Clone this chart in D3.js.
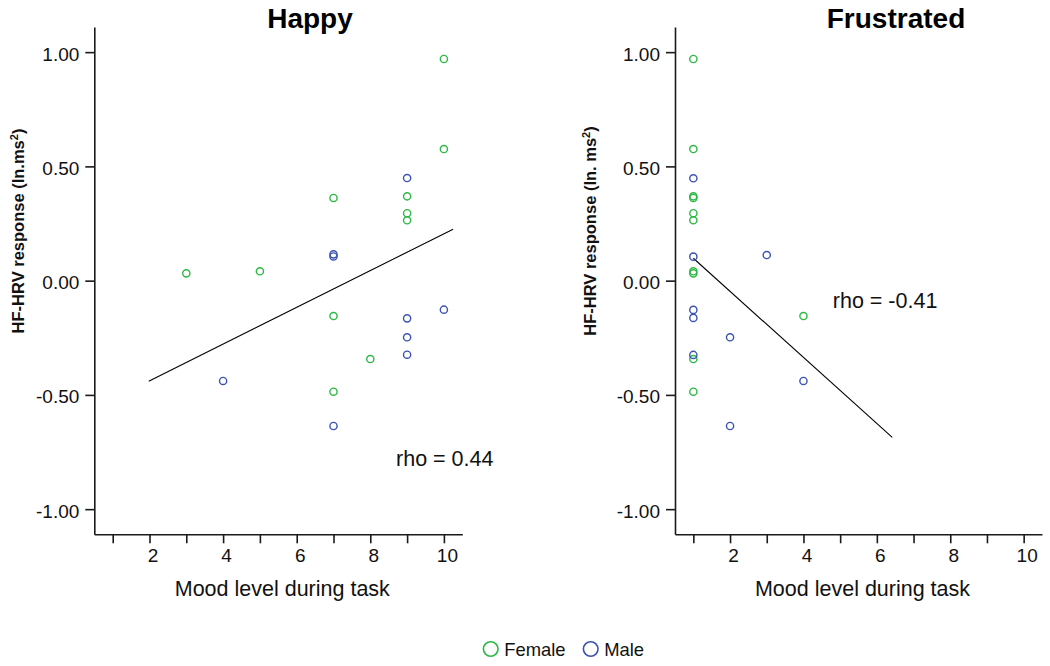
<!DOCTYPE html>
<html>
<head>
<meta charset="utf-8">
<script src="https://cdn.jsdelivr.net/npm/d3@7/dist/d3.min.js"></script>
<style>
  html, body { margin: 0; padding: 0; background: #fff; }
  svg { display: block; font-family: "Liberation Sans", Arial, sans-serif; }
</style>
</head>
<body>
<svg id="chart" width="1050" height="666"></svg>
<script>
// ---------------- data ----------------
const xTicks = [1, 2, 3, 4, 5, 6, 7, 8, 9, 10];
const xTickLabels = ["", "2", "", "4", "", "6", "", "8", "", "10"];
const yTicks = [1.0, 0.5, 0.0, -0.5, -1.0];
const yTickLabels = ["1.00", "0.50", "0.00", "-0.50", "-1.00"];

// Happy panel
const happyFemaleX = [10, 10, 9, 9, 9, 7, 3, 5, 7, 8, 7];
const happyFemaleY = [0.970, 0.576, 0.369, 0.295, 0.264, 0.362, 0.032, 0.041, -0.155, -0.343, -0.486];
const happyMaleX = [9, 7, 7, 10, 9, 9, 9, 4, 7];
const happyMaleY = [0.449, 0.115, 0.106, -0.127, -0.165, -0.248, -0.324, -0.439, -0.636];
const happyFitX = [1.98, 10.25];
const happyFitY = [-0.440, 0.225];
const happyRho = "rho = 0.44";

// Frustrated panel
const frustFemaleX = [1, 1, 1, 1, 1, 1, 1, 1, 4, 1, 1];
const frustFemaleY = [0.970, 0.576, 0.369, 0.362, 0.295, 0.264, 0.032, 0.041, -0.155, -0.343, -0.486];
const frustMaleX = [1, 1, 3, 1, 1, 2, 1, 4, 2];
const frustMaleY = [0.448, 0.105, 0.112, -0.128, -0.163, -0.248, -0.325, -0.439, -0.636];
const frustFitX = [1.0, 6.42];
const frustFitY = [0.098, -0.686];
const frustRho = "rho = -0.41";

const legendLabels = ["Female", "Male"];

// ---------------- styling ----------------
const GREEN = "#2cb843";
const BLUE = "#3a52b3";
const AXIS = "#1a1a1a";

const svg = d3.select("#chart");
svg.append("rect").attr("width", 1050).attr("height", 666).attr("fill", "#fff");

const panels = [
  { title: "Happy", left: 94.3, right: 462.3, titleX: 310,
    yTitle: ["HF-HRV response (ln.ms", ")"], yTitleX: 23.5,
    female: { x: happyFemaleX, y: happyFemaleY },
    male: { x: happyMaleX, y: happyMaleY },
    fit: { x: happyFitX, y: happyFitY },
    rho: happyRho, rhoX: 8.7, rhoY: -0.812 },
  { title: "Frustrated", left: 675, right: 1042, titleX: 896,
    yTitle: ["HF-HRV response (ln. ms", ")"], yTitleX: 596,
    female: { x: frustFemaleX, y: frustFemaleY },
    male: { x: frustMaleX, y: frustMaleY },
    fit: { x: frustFitX, y: frustFitY },
    rho: frustRho, rhoX: 4.8, rhoY: -0.12 }
];

const plotTop = 27, plotBottom = 534.3;

panels.forEach(p => {
  const x = d3.scaleLinear().domain([0.5, 10.5]).range([p.left, p.right]);
  const y = d3.scaleLinear().domain([-1.11, 1.11]).range([plotBottom, plotTop]);
  const g = svg.append("g");

  // X axis
  const xAxis = d3.axisBottom(x).tickValues(xTicks)
    .tickFormat((d, i) => xTickLabels[i]).tickSize(9).tickPadding(5).tickSizeOuter(0);
  const gx = g.append("g").attr("transform", `translate(0,${plotBottom})`).call(xAxis);
  gx.select(".domain").attr("stroke", AXIS).attr("stroke-width", 1.6);
  gx.selectAll(".tick line").attr("stroke", AXIS).attr("stroke-width", 1.6);
  gx.selectAll(".tick text").attr("font-size", 19).attr("fill", "#111")
    .attr("font-family", "'Liberation Sans', Arial, sans-serif").attr("dx", 3);

  // Y axis
  const yAxis = d3.axisLeft(y).tickValues(yTicks)
    .tickFormat((d, i) => yTickLabels[i]).tickSize(9).tickPadding(6).tickSizeOuter(0);
  const gy = g.append("g").attr("transform", `translate(${p.left},0)`).call(yAxis);
  gy.select(".domain").attr("stroke", AXIS).attr("stroke-width", 1.6);
  gy.selectAll(".tick line").attr("stroke", AXIS).attr("stroke-width", 1.6);
  gy.selectAll(".tick text").attr("font-size", 19).attr("fill", "#111")
    .attr("font-family", "'Liberation Sans', Arial, sans-serif").attr("dy", "0.42em");

  // Title
  g.append("text").attr("x", p.titleX).attr("y", 28).attr("text-anchor", "middle")
    .attr("font-size", 28).attr("font-weight", "bold").attr("fill", "#000").text(p.title);

  // X axis title
  g.append("text").attr("x", (p.left + p.right) / 2 + 4).attr("y", 596)
    .attr("text-anchor", "middle").attr("font-size", 21.5).attr("fill", "#111")
    .text("Mood level during task");

  // Y axis title
  const yt = g.append("text")
    .attr("transform", `translate(${p.yTitleX},231) rotate(-90)`)
    .attr("text-anchor", "middle").attr("font-size", 16.5).attr("font-weight", "bold").attr("fill", "#111");
  yt.append("tspan").text(p.yTitle[0]);
  yt.append("tspan").attr("font-size", 11).attr("dy", -6).text("2");
  yt.append("tspan").attr("dy", 6).text(p.yTitle[1]);

  // fit line
  g.append("line")
    .attr("x1", x(p.fit.x[0])).attr("y1", y(p.fit.y[0]))
    .attr("x2", x(p.fit.x[1])).attr("y2", y(p.fit.y[1]))
    .attr("stroke", "#000").attr("stroke-width", 1.1);

  // points
  const drawPts = (s, color) => {
    g.append("g").selectAll("circle").data(s.x.map((v, i) => [v, s.y[i]]))
      .join("circle")
      .attr("cx", d => x(d[0])).attr("cy", d => y(d[1])).attr("r", 3.6)
      .attr("fill", "none").attr("stroke", color).attr("stroke-width", 1.4);
  };
  drawPts(p.female, GREEN);
  drawPts(p.male, BLUE);

  // rho annotation
  g.append("text").attr("x", x(p.rhoX)).attr("y", y(p.rhoY))
    .attr("font-size", 21.5).attr("fill", "#111").text(p.rho);
});

// legend
const legend = svg.append("g");
const legendItems = [
  { label: legendLabels[0], color: GREEN, cx: 490.7 },
  { label: legendLabels[1], color: BLUE, cx: 590.7 }
];
legendItems.forEach(it => {
  legend.append("circle").attr("cx", it.cx).attr("cy", 649).attr("r", 7.3)
    .attr("fill", "none").attr("stroke", it.color).attr("stroke-width", 1.6);
  legend.append("text").attr("x", it.cx + 13.5).attr("y", 655.5)
    .attr("font-size", 18.4).attr("fill", "#111").text(it.label);
});
</script>
</body>
</html>
